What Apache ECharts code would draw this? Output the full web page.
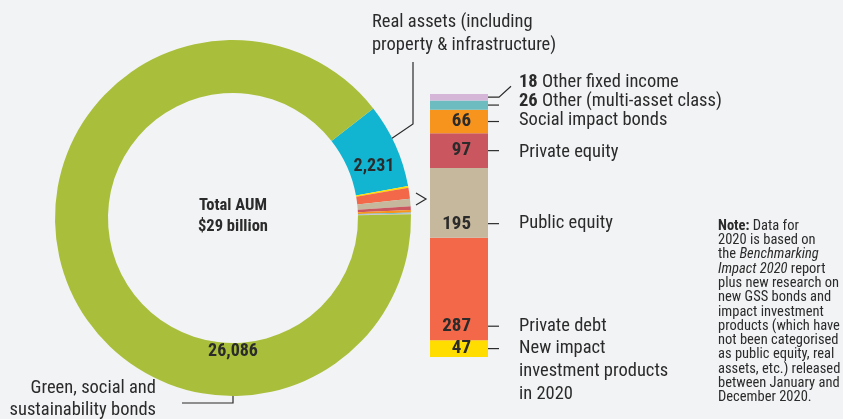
<!DOCTYPE html>
<html>
<head>
<meta charset="utf-8">
<script src="https://cdn.jsdelivr.net/npm/echarts@6/dist/echarts.min.js"></script>
<style>
  html, body { margin: 0; padding: 0; background: #f2f3f5; }
  #chart { width: 843px; height: 419px; }
</style>
</head>
<body>
<div id="chart"></div>
<script>
(function () {
  // data, bottom of the bar first
  var barNames = ['New impact\ninvestment products\nin 2020', 'Private debt', 'Public equity', 'Private equity',
    'Social impact bonds', 'Other (multi-asset class)', 'Other fixed income'];
  var barValues = [47, 287, 195, 97, 66, 26, 18];
  var barColors = ['#ffdd00', '#f26849', '#c6b89d', '#ca5760', '#f7941d', '#6dbdc0', '#d5b5d8'];

  var realName = 'Real assets (including\nproperty & infrastructure)';
  var realValue = 2231;
  var greenName = 'Green, social and\nsustainability bonds';
  var greenValue = 26086;

  var FONT = "'Roboto Condensed', 'Liberation Sans Narrow', sans-serif";
  var INK = '#2b2b2b';

  var myChart = echarts.init(document.getElementById('chart'));

  var pieData = [{ name: realName, value: realValue, itemStyle: { color: '#12b5d1' } }];
  for (var i = 0; i < barValues.length; i++) {
    pieData.push({ name: barNames[i], value: barValues[i], itemStyle: { color: barColors[i] }, label: { show: false } });
  }
  pieData.push({ name: greenName, value: greenValue, itemStyle: { color: '#a9bf3b' } });

  // label offsets for the name labels on the right of the bar
  var nameDy = [23, 37, 21, 2, -1, -4, -15];
  var valueOutside = [false, false, false, false, false, true, true];

  var series = [{
    type: 'pie',
    center: [233, 218],
    radius: [125, 178],
    startAngle: 38,
    clockwise: true,
    silent: true,
    data: pieData,
    label: {
      show: true,
      position: 'inside',
      fontFamily: FONT,
      fontWeight: 'bold',
      fontSize: 18,
      color: INK,
      formatter: function (p) { return p.value.toLocaleString('en-US'); }
    },
    labelLine: { show: false },
    labelLayout: function (p) {
      if (p.dataIndex === pieData.length - 1) return { x: 233, y: 351 };
      if (p.dataIndex === 0) return { dy: 6 };
      return {};
    }
  }];

  // stacked bar: values inside
  for (var j = 0; j < barValues.length; j++) {
    var lbl;
    if (valueOutside[j]) {
      lbl = { show: false };
    } else if (j === 1 || j === 2) {
      lbl = { show: true, position: 'insideBottomRight', distance: 4, offset: [-13, 0] };
    } else {
      lbl = { show: true, position: 'insideRight', distance: 17 };
    }
    lbl.fontFamily = FONT;
    lbl.fontWeight = 'bold';
    lbl.fontSize = 19;
    lbl.color = INK;
    series.push({
      type: 'bar',
      stack: 'values',
      barWidth: 58,
      barGap: '-100%',
      silent: true,
      itemStyle: { color: barColors[j] },
      label: lbl,
      data: [barValues[j]]
    });
  }
  // same stack again, transparent, carrying the category names
  for (var k = 0; k < barValues.length; k++) {
    var txt = valueOutside[k] ? '{b|' + barValues[k] + '} ' + barNames[k] : barNames[k];
    series.push({
      type: 'bar',
      stack: 'names',
      barWidth: 58,
      barGap: '-100%',
      silent: true,
      itemStyle: { color: 'rgba(0,0,0,0)' },
      label: {
        show: true,
        position: 'right',
        distance: 31,
        offset: [0, nameDy[k]],
        formatter: txt,
        fontFamily: FONT,
        fontSize: 18.5,
        lineHeight: 23,
        color: INK,
        rich: { b: { fontFamily: FONT, fontWeight: 'bold', fontSize: 18.5, color: INK } }
      },
      data: [barValues[k]]
    });
  }

  var total = barValues.reduce(function (a, b) { return a + b; }, 0);

  var note = '{b|Note:} Data for\n2020 is based on\nthe {i|Benchmarking}\n{i|Impact 2020} report\n' +
    'plus new research on\nnew GSS bonds and\nimpact investment\nproducts (which have\n' +
    'not been categorised\nas public equity, real\nassets, etc.) released\nbetween January and\nDecember 2020.';

  var option = {
    backgroundColor: '#f2f3f5',
    animation: false,
    grid: { left: 430, top: 94, width: 58, height: 263 },
    xAxis: { type: 'category', data: ['2020'], show: false },
    yAxis: { type: 'value', min: 0, max: total, show: false },
    series: series,
    graphic: [
      {
        type: 'text', x: 233, y: 216,
        style: {
          text: 'Total AUM\n$29 billion', align: 'center', verticalAlign: 'middle',
          font: 'bold 16.5px ' + FONT, lineHeight: 21, fill: INK
        }
      },
      {
        type: 'text', x: 372, y: 11,
        style: { text: realName, font: '18.5px ' + FONT, lineHeight: 23, fill: INK }
      },
      {
        type: 'text', x: 156, y: 377,
        style: { text: greenName, font: '18.5px ' + FONT, lineHeight: 22, fill: INK, align: 'right' }
      },
      {
        type: 'text', x: 718, y: 219,
        style: {
          text: note, font: '14.5px ' + FONT, lineHeight: 14.3, fill: INK,
          rich: {
            b: { fontFamily: FONT, fontWeight: 'bold', fontSize: 14.5, lineHeight: 14.3, fill: INK },
            i: { fontFamily: FONT, fontStyle: 'italic', fontSize: 14.5, lineHeight: 14.3, fill: INK }
          }
        }
      },
      {
        type: 'polyline', shape: { points: [[413, 62], [413, 124], [388, 141]] },
        style: { stroke: INK, lineWidth: 1.2, fill: null }
      },
      {
        type: 'polyline', shape: { points: [[233, 372], [233, 403], [182, 403]] },
        style: { stroke: INK, lineWidth: 1.2, fill: null }
      },
      {
        type: 'polyline', shape: { points: [[416, 193], [426, 199], [416, 205]] },
        style: { stroke: INK, lineWidth: 1.2, fill: null }
      }
    ]
  };
  myChart.setOption(option);

  // leader lines between values and names, placed through the value axis
  var lines = [];
  var cum = 0;
  for (var m = 0; m < barValues.length; m++) {
    var yb = myChart.convertToPixel({ yAxisIndex: 0 }, cum);
    var yt = myChart.convertToPixel({ yAxisIndex: 0 }, cum + barValues[m]);
    var y = (m === 1 || m === 2) ? yb - 14 : (yb + yt) / 2;
    var pts = [[479, y], [499, y]];
    if (m === barValues.length - 1) pts.push([511, y - 11]);
    lines.push({ type: 'polyline', shape: { points: pts }, style: { stroke: INK, lineWidth: 1.2, fill: null } });
    cum += barValues[m];
  }
  myChart.setOption({ graphic: option.graphic.concat(lines) });

  window.addEventListener('resize', function () { myChart.resize(); });
})();
</script>
</body>
</html>
